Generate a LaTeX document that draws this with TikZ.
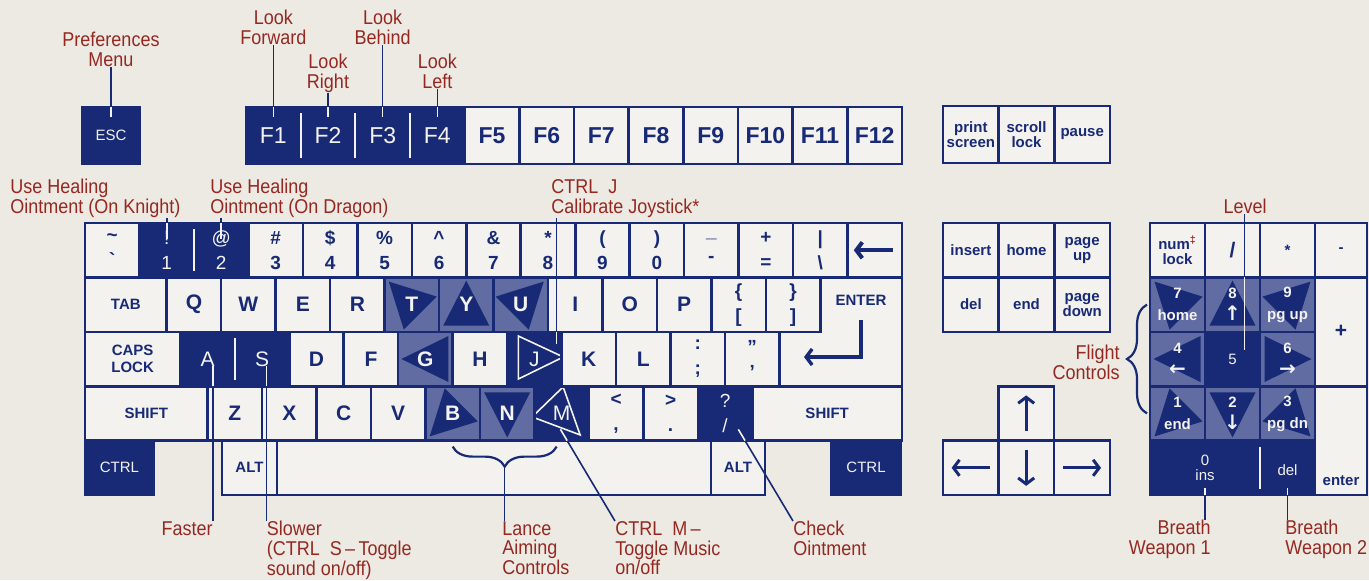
\documentclass[tikz,border=0pt]{standalone}
\usepackage{fontspec}
\setmainfont{Liberation Sans}
\newfontfamily\lblfont[FakeStretch=0.9]{Liberation Sans}
\newfontfamily\symfont{DejaVu Sans}
\usetikzlibrary{calc,arrows.meta,decorations.pathreplacing}
\definecolor{navy}{RGB}{24,42,118}
\definecolor{paper}{RGB}{236,234,226}
\definecolor{keyw}{RGB}{243,242,238}
\definecolor{hatch}{RGB}{96,108,162}
\definecolor{lblred}{RGB}{150,40,34}
\newcommand\keyat[7]{%
  \node[key,#6,minimum width={(#3-#2)*0.5pt},minimum height={(#5-#4)*0.5pt}] (#1) at ({(#2+#3)/2},{(#4+#5)/2}) {#7};}
\newcommand\padarr[1]{{\symfont\fontsize{10}{11}\selectfont#1}}

\begin{document}
\begin{tikzpicture}[x=0.5pt,y=-0.5pt,
  key/.style={draw=navy,line width=1.3pt,fill=keyw,text=navy,inner sep=0pt,outer sep=0pt,align=center},
  keyline/.style={draw=navy,line width=1.3pt,fill=keyw},
  wk/.style={},
  dk/.style={fill=navy,text=keyw,execute at begin node=\mdseries},
  ht/.style={fill=hatch,text=keyw},
  dn/.style={nk,dk},
  fk/.style={font=\bfseries\fontsize{11.5}{12}\selectfont},
  lk/.style={font=\bfseries\fontsize{10.5}{11}\selectfont},
  nk/.style={font=\bfseries\fontsize{9.5}{12.5}\selectfont},
  mk/.style={font=\bfseries\fontsize{7.5}{8.5}\selectfont},
  sk/.style={font=\bfseries\fontsize{7.5}{7.5}\selectfont},
  ak/.style={font=\bfseries\fontsize{7.5}{11}\selectfont},
  tri/.style n args={3}{path picture={\fill[navy] ($(path picture bounding box.center)+(#1)$) -- ($(path picture bounding box.center)+(#2)$) -- ($(path picture bounding box.center)+(#3)$) -- cycle;}},
  otri/.style n args={3}{path picture={\draw[keyw,line width=0.8pt] ($(path picture bounding box.center)+(#1)$) -- ($(path picture bounding box.center)+(#2)$) -- ($(path picture bounding box.center)+(#3)$) -- cycle;}},
  hn/.style={ht,tri={0,-24}{-23,21}{23,21}},
  hs/.style={ht,tri={0,24}{-23,-21}{23,-21}},
  hw/.style={ht,tri={-24,0}{23,-23}{23,23}},
  he/.style={ht,tri={24,0}{-23,-23}{-23,23}},
  hnw/.style={ht,tri={-23,-23}{25,-8}{-8,25}},
  hne/.style={ht,tri={23,-23}{-25,-8}{8,25}},
  hsw/.style={ht,tri={-23,23}{-8,-25}{25,8}},
  hse/.style={ht,tri={23,23}{8,-25}{-25,8}},
  jt/.style={dk,otri={-16,-23}{-16,20}{29,-2}},
  mt/.style={dk,otri={-29.5,3.5}{1.5,-26.5}{18.5,21.5}},
  lbl/.style={text=lblred,inner sep=0pt,font=\lblfont\fontsize{10}{9.9}\selectfont},
  lead/.style={navy,line width=0.8pt},
  leadw/.style={keyw,line width=0.8pt},
  sep/.style={keyw,line width=0.9pt},
  brc/.style={navy,line width=1.1pt,decorate,decoration={brace,amplitude=10pt}},
  karr/.style={navy,line width=1.5pt,-{Straight Barb[length=3pt,width=8pt]}}
]
\fill[paper] (0,0) rectangle (1369,580);
\useasboundingbox (0,0) rectangle (1369,580);

\keyat{esc}{82}{140}{107}{164}{mk,dk}{ESC}
\foreach \i in {1,...,4}{\pgfmathsetmacro\xa{246+(\i-1)*54.67}\pgfmathsetmacro\xb{\xa+54.67}
  \keyat{f\i}{\xa}{\xb}{107}{164}{fk,dk}{F\i}}
\foreach \i in {5,...,12}{\pgfmathsetmacro\xa{246+(\i-1)*54.67}\pgfmathsetmacro\xb{\xa+54.67}
  \keyat{f\i}{\xa}{\xb}{107}{164}{fk}{F\i}}
\foreach \nm/\lab [count=\i from 0] in {prtsc/{print\\screen},scrlk/{scroll\\lock},pause/pause}{\pgfmathsetmacro\xa{943+\i*55.67}\pgfmathsetmacro\xb{\xa+55.67}
  \keyat{\nm}{\xa}{\xb}{106}{163}{sk}{\lab}}

\foreach \nm/\lab/\sty [count=\i from 0] in {grave/{\textasciitilde\\\textasciigrave}/wk,one/{!\\1}/dk,two/{@\\2}/dk,three/{\#\\3}/wk,four/{\$\\4}/wk,five/{\%\\5}/wk,six/{\textasciicircum\\6}/wk,seven/{\&\\7}/wk,eight/{*\\8}/wk,nine/{(\\9}/wk,zero/{)\\0}/wk,minus/{\_\\-}/wk,equal/{+\\=}/wk,bslash/{|\\\textbackslash}/wk,bksp/{}/wk}{\pgfmathsetmacro\xa{85+\i*54.467}\pgfmathsetmacro\xb{\xa+54.467}
  \keyat{\nm}{\xa}{\xb}{223}{277.4}{nk,\sty}{\lab}}
\keyat{tab}{85}{166.7}{277.4}{331.8}{mk}{TAB}
\foreach \nm/\lab/\sty [count=\i from 0] in {q/Q/wk,w/W/wk,e/E/wk,r/R/wk,t/T/hnw,y/Y/hn,u/U/hne,i/I/wk,o/O/wk,p/P/wk,lbr/{\{\\{[}}/nk,rbr/{\}\\{]}}/nk}{\pgfmathsetmacro\xa{166.7+\i*54.467}\pgfmathsetmacro\xb{\xa+54.467}
  \keyat{\nm}{\xa}{\xb}{277.4}{331.8}{lk,\sty}{\lab}}
\keyat{caps}{85}{180.3}{331.8}{386.2}{mk}{CAPS\\LOCK}
\foreach \nm/\lab/\sty [count=\i from 0] in {a/A/dk,s/S/dk,d/D/wk,f/F/wk,g/G/hw,h/H/wk,j/J/jt,k/K/wk,l/L/wk,semi/{:\\;}/nk,quote/{"\\'}/nk}{\pgfmathsetmacro\xa{180.3+\i*54.467}\pgfmathsetmacro\xb{\xa+54.467}
  \keyat{\nm}{\xa}{\xb}{331.8}{386.2}{lk,\sty}{\lab}}
\draw[keyline] (820.3,277.4) -- (902,277.4) -- (902,386.2) -- (779.4,386.2) -- (779.4,331.8) -- (820.3,331.8) -- cycle;
\node[mk,text=navy] (enter) at (861,300) {ENTER};
\keyat{lsh}{85}{207.6}{386.2}{440.6}{mk}{SHIFT}
\foreach \nm/\lab/\sty [count=\i from 0] in {z/Z/wk,x/X/wk,c/C/wk,v/V/wk,b/B/hsw,n/N/hs,m/M/mt,comma/{<\\,}/nk,period/{>\\.}/nk,slash/{?\\/}/dn}{\pgfmathsetmacro\xa{207.6+\i*54.467}\pgfmathsetmacro\xb{\xa+54.467}
  \keyat{\nm}{\xa}{\xb}{386.2}{440.6}{lk,\sty}{\lab}}
\keyat{rsh}{752.3}{902}{386.2}{440.6}{mk}{SHIFT}
\keyat{lctrl}{85}{154}{440.6}{495}{mk,dk}{CTRL}
\keyat{lalt}{222}{277}{440.6}{495}{mk}{ALT}
\keyat{space}{277}{711}{440.6}{495}{mk}{}
\keyat{ralt}{711}{765}{440.6}{495}{mk}{ALT}
\keyat{rctrl}{831}{901}{440.6}{495}{mk,dk}{CTRL}

\foreach \nm/\lab [count=\i from 0] in {ins/insert,khome/home,pgup/{page\\up}}{\pgfmathsetmacro\xa{943+\i*55.67}\pgfmathsetmacro\xb{\xa+55.67}
  \keyat{\nm}{\xa}{\xb}{223}{277.4}{sk}{\lab}}
\foreach \nm/\lab [count=\i from 0] in {kdel/del,kend/end,pgdn/{page\\down}}{\pgfmathsetmacro\xa{943+\i*55.67}\pgfmathsetmacro\xb{\xa+55.67}
  \keyat{\nm}{\xa}{\xb}{277.4}{331.8}{sk}{\lab}}
\keyat{aup}{998.3}{1054}{386.2}{440.6}{sk}{}
\keyat{aleft}{943}{998.3}{440.6}{495}{sk}{}
\keyat{adown}{998.3}{1054}{440.6}{495}{sk}{}
\keyat{aright}{1054}{1110}{440.6}{495}{sk}{}

\keyat{numlk}{1150}{1205}{223}{277.4}{sk}{num\textsuperscript{\textcolor{lblred}{‡}}\\lock}
\keyat{pslash}{1205}{1260}{223}{277.4}{lk}{/}
\keyat{pstar}{1260}{1315}{223}{277.4}{mk}{*}
\keyat{pminus}{1315}{1367}{223}{277.4}{mk}{-}
\foreach \nm/\lab/\sty [count=\i from 0] in {p7/{7\\home}/hnw,p8/{8\\\padarr{↑}}/hn,p9/{9\\pg up}/hne,p4/{4\\\padarr{←}}/hw,p5/5/dk,p6/{6\\\padarr{→}}/he,p1/{1\\end}/hsw,p2/{2\\\padarr{↓}}/hs,p3/{3\\pg dn}/hse}{\pgfmathtruncatemacro\cc{mod(\i,3)}\pgfmathtruncatemacro\rr{div(\i,3)}
  \pgfmathsetmacro\xa{1150+\cc*55}\pgfmathsetmacro\xb{\xa+55}\pgfmathsetmacro\ya{277.4+\rr*54.4}\pgfmathsetmacro\yb{\ya+54.4}
  \keyat{\nm}{\xa}{\xb}{\ya}{\yb}{ak,\sty}{\lab}}
\keyat{pplus}{1315}{1367}{277.4}{386.2}{lk}{+}
\keyat{penter}{1315}{1367}{386.2}{495}{sk}{}
\node[sk,text=navy,inner sep=0pt,anchor=south] (penttxt) at ($(penter.south)+(0,-9)$) {enter};
\keyat{p0}{1150}{1260}{440.6}{495}{sk,dk}{0\\ins}
\keyat{pdel}{1260}{1315}{440.6}{495}{sk,dk}{\mbox{}\\del}

\draw[karr,line width=2pt] ($(bksp)+(18,0)$) -- ($(bksp)+(-21,0)$);
\draw[karr,line width=1.7pt] ($(enter)+(0,20)$) -- ($(enter)+(0,57)$) -- ($(enter)+(-57,57)$);
\draw[karr] ($(aup)+(0,18)$) -- ($(aup)+(0,-18)$);
\draw[karr] ($(adown)+(0,-18)$) -- ($(adown)+(0,18)$);
\draw[karr] ($(aleft)+(19,0)$) -- ($(aleft)+(-19,0)$);
\draw[karr] ($(aright)+(-19,0)$) -- ($(aright)+(19,0)$);
\foreach \a in {f1,f2,f3,one,a,p0}
  \draw[sep] ($(\a.north east)+(0,6)$) -- ($(\a.south east)+(0,-6)$);

\node[lbl,align=center,anchor=south] (prefs) at (111,67) {Preferences\\Menu};
\node[lbl,align=center,anchor=south] (lookf) at (273.3,45) {Look\\Forward};
\node[lbl,align=center,anchor=south] (lookr) at (328,93) {Look\\Right};
\node[lbl,align=center,anchor=south] (lookb) at (382.7,45) {Look\\Behind};
\node[lbl,align=center,anchor=south] (lookl) at (437.3,89) {Look\\Left};
\node[lbl,align=left,anchor=south west] (heal1) at (10,218) {Use Healing\\Ointment (On Knight)};
\node[lbl,align=left,anchor=south west] (heal2) at (210,218) {Use Healing\\Ointment (On Dragon)};
\node[lbl,align=left,anchor=south west] (ctrlj) at (551,218) {CTRL\enspace J\\Calibrate Joystick*};
\node[lbl,anchor=south] (level) at (1245,214) {Level};
\node[lbl,align=right,anchor=east] (flight) at (1120,362) {Flight\\Controls};
\node[lbl,anchor=north east] (faster) at (213,521) {Faster};
\node[lbl,align=left,anchor=north west] (slower) at (266.5,521) {Slower\\(CTRL\enspace S\,\textendash\,Toggle\\sound on/off)};
\node[lbl,align=left,anchor=north west] (lance) at (502,521) {Lance\\Aiming\\Controls};
\node[lbl,align=left,anchor=north west] (ctrlm) at (615,521) {CTRL\enspace M\,\textendash\\Toggle Music\\on/off};
\node[lbl,align=left,anchor=north west] (check) at (793,521) {Check\\Ointment};
\node[lbl,align=right,anchor=north east] (bw1) at (1211,520) {Breath\\Weapon 1};
\node[lbl,align=left,anchor=north west] (bw2) at (1285,520) {Breath\\Weapon 2};

\foreach \l/\k in {prefs/esc,lookf/f1,lookr/f2,lookb/f3,lookl/f4}{
  \draw[lead] (\k.north |- \l.south) -- (\k.north);
  \draw[leadw] (\k.north) -- ($(\k.north)+(0,10)$);}
\foreach \l/\k in {heal1/one,heal2/two}{
  \draw[lead] (\k.north |- \l.south) -- (\k.north);
  \draw[leadw] (\k.north) -- ($(\k.north)+(0,16)$);}
\coordinate (jl) at ($(j.north east)+(-5,0)$);
\draw[lead] (jl |- ctrlj.south) -- (jl);
\draw[leadw] (jl) -- ($(jl)+(0,12)$);
\coordinate (lv) at ($(pslash.north)+(12,0)$);
\draw[lead] (lv |- level.south) -- (lv |- p8.north);
\draw[leadw] (lv |- p8.north) -- ($(lv |- p5.center)+(0,-9)$);
\draw[brc] ($(p1.west)+(-3,0)$) -- ($(p7.west)+(-3,0)$);
\draw[brc] ($(m.south)+(-5,6)$) -- ($(b.south)+(0,6)$);
\coordinate (ltip) at ($(m.south)!0.5!(b.south)+(-2.5,26)$);
\draw[lead] (ltip) -- (ltip |- lance.north);
\draw[lead] (faster.north east) -- (faster.north east |- a.south);
\draw[leadw] (faster.north east |- a.south) -- ($(faster.north east |- a.south)+(0,-20)$);
\draw[lead] (slower.north west) -- (slower.north west |- s.south);
\draw[leadw] (slower.north west |- s.south) -- ($(slower.north west |- s.south)+(0,-20)$);
\coordinate (mc) at ($(m.south)+(5.5,0)$);
\draw[lead] (ctrlm.north west) -- (mc);
\draw[leadw] (mc) -- ($(ctrlm.north west)!1.14!(mc)$);
\coordinate (qc) at ($(slash.south)+(20,0)$);
\draw[lead] (check.north west) -- (qc);
\draw[leadw] (qc) -- ($(check.north west)!1.14!(qc)$);
\draw[lead] (p0.south |- bw1.north) -- (p0.south);
\draw[leadw] (p0.south) -- ($(p0.south)+(0,-7)$);
\draw[lead] (pdel.south |- bw2.north) -- (pdel.south);
\draw[leadw] (pdel.south) -- ($(pdel.south)+(0,-7)$);
\end{tikzpicture}
\end{document}
